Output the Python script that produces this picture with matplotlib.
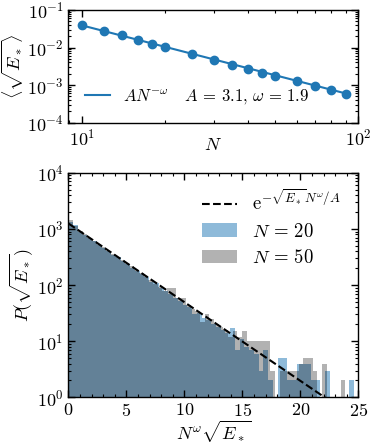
import numpy as np
import matplotlib
matplotlib.use("Agg")
import matplotlib.pyplot as plt

plt.rcParams['font.family'] = 'serif'
plt.rcParams['font.serif'] = ['cmr10', 'DejaVu Serif']
plt.rcParams['mathtext.fontset'] = 'cm'
plt.rcParams['axes.formatter.use_mathtext'] = True
plt.rcParams['axes.unicode_minus'] = True
plt.rcParams['font.size'] = 13

# mean sqrt(E*) versus N
N = [10, 12, 14, 16, 18, 20, 25, 30, 35, 40, 45, 50, 60, 70, 80, 90]
meanE = [0.0392, 0.0281, 0.0212, 0.0159, 0.0127, 0.01035, 0.00662, 0.00458,
         0.00343, 0.00269, 0.00214, 0.00175, 0.00126, 0.000948, 0.000728, 0.00057]
A = 3.1
omega = 1.9

# histograms of N^omega sqrt(E*)
edges20 = np.linspace(0, 24.6, 61)
counts20 = [1350, 1180, 900, 790, 690, 600, 520, 450, 400, 350,
            320, 265, 235, 205, 180, 160, 140, 115, 110, 90,
            78, 70, 58, 52, 45, 40, 31, 32, 26, 24,
            20, 18, 16, 14, 17, 7, 11, 8, 7, 6,
            3, 7, 2, 0, 5, 5, 2, 2, 4, 4,
            4, 2, 2, 0, 3, 0, 0, 1, 0, 2]
edges50 = np.linspace(0, 24.3, 61)
counts50 = [1450, 1150, 920, 800, 700, 610, 535, 470, 410, 365,
            310, 275, 250, 215, 185, 165, 145, 125, 105, 92,
            80, 89, 88, 60, 58, 45, 38, 35, 22, 30,
            25, 20, 18, 16, 12, 15, 12, 15, 10, 10,
            10, 10, 10, 3, 0, 3, 3, 3, 3, 4,
            5, 5, 3, 1, 4, 0, 0, 0, 2, 0]
C0 = 1250

fig = plt.figure(figsize=(3.74, 4.46), dpi=100)

# top panel
ax1 = fig.add_axes([0.183, 0.725, 0.775, 0.2526])
Nfit = np.linspace(10, 90, 100)
ax1.plot(Nfit, A*Nfit**(-omega), '-', color='C0', lw=1.5,
         label=r'$AN^{-\omega}$   $A\,=\,3.1$, $\omega\,=\,1.9$')
ax1.plot(N, meanE, 'o', color='C0', ms=6)
ax1.set_xscale('log')
ax1.set_yscale('log')
ax1.set_xlim(8.95, 100)
ax1.set_ylim(1e-4, 1e-1)
ax1.set_xlabel(r'$N$', labelpad=-8)
ax1.set_ylabel(r'$\langle\sqrt{E_*}\rangle$', labelpad=1)
ax1.legend(loc='lower left', frameon=False, handlelength=1.5, fontsize=12,
           borderaxespad=0.6)

# bottom panel
ax2 = fig.add_axes([0.183, 0.109, 0.775, 0.5036])
ax2.set_yscale('log')
ax2.hist(edges20[:-1], bins=edges20, weights=counts20, color='C0', alpha=0.5,
         label=r'$N\,=\,20$')
ax2.hist(edges50[:-1], bins=edges50, weights=counts50, color='k', alpha=0.3,
         label=r'$N\,=\,50$')
x = np.linspace(0, 25, 300)
ax2.plot(x, C0*np.exp(-x/A), '--', color='k', lw=1.5,
         label=r'$\mathrm{e}^{-\sqrt{E_*}N^\omega/A}$')
ax2.set_xlim(0, 25)
ax2.set_ylim(1, 1e4)
ax2.set_xticks([0, 5, 10, 15, 20, 25])
ax2.set_xlabel(r'$N^\omega\sqrt{E_*}$', labelpad=0)
ax2.set_ylabel(r'$P(\sqrt{E_*})$', labelpad=1)
h, l = ax2.get_legend_handles_labels()
ax2.legend([h[2], h[0], h[1]], [l[2], l[0], l[1]], loc='upper right',
           frameon=False, fontsize=13.5, handlelength=1.9, labelspacing=0.45,
           borderaxespad=0.5)
ax2.xaxis.set_minor_locator(matplotlib.ticker.MultipleLocator(1))

for ax in (ax1, ax2):
    ax.tick_params(which='both', direction='in', top=True, right=True, labelsize=13)
    ax.tick_params(which='major', length=5, width=1)
    ax.tick_params(which='minor', length=2.5, width=0.8)
    for s in ax.spines.values():
        s.set_linewidth(1)

fig.savefig('out.png', dpi=100)
